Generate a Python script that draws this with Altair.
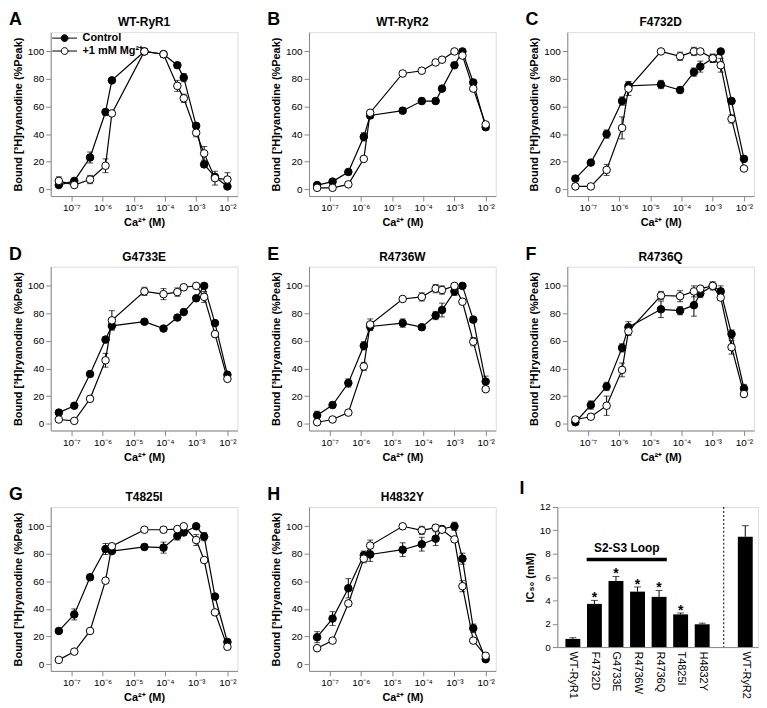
import altair as alt
import pandas as pd

FONT = "Liberation Sans"

# ---------------- data ----------------
conc = [4e-8, 1.25e-7, 4e-7, 1.25e-6, 2e-6, 2.2e-5, 9e-5, 2.5e-4, 4e-4, 1e-3, 1.8e-3, 4e-3, 1e-2]
series_names = ["Control", "+1 mM Mg²⁺"]

A_ctrl = [3, 6, 23, 56, 79, 100, 98, 90, 81, 46, 18, 9, 2]
A_ctrl_err = [1, 1, 4, 2, 0, 0, 2, 2, 3, 2, 2, 0, 0]
A_mg = [6, 3, 7, 17, 55, 100, 98, 75, 66, 41, 26, 8, 7]
A_mg_err = [3, 1, 3, 5, 1, 0, 2, 4, 3, 3, 5, 5, 5]

B_ctrl = [3, 5.5, 12.5, 38, 53.5, 57, 64, 64, 73, 90, 100, 77.5, 45]
B_ctrl_err = [1, 1, 1, 3, 2, 2, 2, 2, 1, 2, 0, 2, 2]
B_mg = [1, 1, 3.5, 22, 55.5, 84, 86, 92, 94, 100, 97, 73, 47]
B_mg_err = [0, 0, 0, 0, 0, 0, 0, 0, 0, 0, 0, 0, 0]

C_ctrl = [7.7, 19.3, 40, 64, 75, 76, 72, 85, 89, 95, 100, 64, 22]
C_ctrl_err = [1, 1, 3, 3, 3, 3, 2, 3, 4, 3, 0, 2, 1]
C_mg = [2, 2, 14, 44.5, 73, 100, 96.5, 100, 100, 95, 90, 51, 15]
C_mg_err = [0, 0, 4, 8, 5, 0, 3, 3, 0, 3, 5, 3, 0]

D_ctrl = [8, 13, 36, 61, 71, 74, 69, 77, 81, 91, 100, 73, 35.5]
D_ctrl_err = [1, 1, 1, 1, 3, 1, 1, 1, 1, 2, 0, 1, 1]
D_mg = [3, 2, 18, 46, 75, 96, 94, 95.5, 99, 100, 92, 65, 32.5]
D_mg_err = [0, 0, 2, 5, 7, 3, 4, 3, 2, 2, 4, 2, 0]

E_ctrl = [6, 13.5, 29.5, 56.5, 70.5, 73, 70, 78.5, 82.5, 96, 100, 75.5, 30.5]
E_ctrl_err = [3, 2, 3, 3, 3, 3, 2, 3, 5, 3, 0, 2, 4]
E_mg = [1, 3, 8, 41.5, 72, 90.5, 92, 98, 97, 100, 88.5, 59.5, 25]
E_mg_err = [0, 0, 0, 3, 4, 0, 3, 3, 3, 0, 0, 3, 0]

F_ctrl = [1, 13.5, 27, 55, 70, 83, 82, 86, 94.5, 100, 96, 65, 25.5]
F_ctrl_err = [2, 3, 3, 3, 4, 6, 3, 8, 3, 3, 4, 3, 3]
F_mg = [3, 5, 13, 39, 67, 93, 92.5, 96, 98, 100, 91.5, 55.5, 21.5]
F_mg_err = [2, 0, 7, 5, 3, 3, 4, 4, 0, 0, 2, 5, 2]

G_ctrl = [24, 36, 63, 83.5, 82, 85, 84.5, 93, 95.5, 100, 92.5, 49, 16]
G_ctrl_err = [0, 4, 2, 4, 0, 2, 4, 3, 2, 0, 3, 0, 2]
G_mg = [3, 9, 24, 60.5, 85.5, 97.5, 97.5, 98, 100, 90, 75.5, 37.5, 12.5]
G_mg_err = [0, 0, 0, 0, 0, 0, 2, 0, 0, 4, 0, 0, 0]

H_ctrl = [19.5, 33, 55, 79, 79.5, 83, 87, 91, 98, 100, 76.5, 26, 3.5]
H_ctrl_err = [4, 5, 7, 3, 5, 5, 5, 5, 2, 3, 4, 3, 0]
H_mg = [11.5, 17, 44, 76.5, 86, 100, 97, 99, 97.5, 90.5, 56.5, 17, 6]
H_mg_err = [0, 0, 0, 3, 4, 2, 3, 2, 2, 0, 4, 0, 0]

panel_letters = ["A", "B", "C", "D", "E", "F", "G", "H"]
panel_titles = ["WT-RyR1", "WT-RyR2", "F4732D", "G4733E", "R4736W", "R4736Q", "T4825I", "H4832Y"]

ic50_names = ["WT-RyR1", "F4732D", "G4733E", "R4736W", "R4736Q", "T4825I", "H4832Y", "WT-RyR2"]
ic50_pos = [1, 2, 3, 4, 5, 6, 7, 9]
ic50_val = [0.7, 3.7, 5.65, 4.75, 4.3, 2.8, 1.95, 9.45]
ic50_err = [0.1, 0.3, 0.4, 0.4, 0.55, 0.12, 0.1, 0.95]
ic50_sig = [False, True, True, True, True, True, False, False]

loop_label = "S2-S3 Loop"
loop_from, loop_to, loop_level, loop_text_level = 1.64, 5.36, 7.5, 8.45
divider_at = 8

# ---------------- settings ----------------
PW, PH = 188, 165
LEG_PATH = ("M-2,0L-0.55,0M0.55,0L2,0M0.55,0A0.55,0.55,0,1,1,-0.55,0"
            "A0.55,0.55,0,1,1,0.55,0Z")
sup = ["⁻⁷", "⁻⁶", "⁻⁵", "⁻⁴", "⁻³", "⁻²"]
x_label_expr = "'10' + [" + ",".join("'" + s + "'" for s in sup) + "][round(log(datum.value)/LN10)+7]"

xs = alt.Scale(type="log", domain=[2.2e-8, 2.1e-2], nice=False)
ys = alt.Scale(domain=[-5, 114], nice=False, zero=False)
x_axis = alt.Axis(values=[1e-7, 1e-6, 1e-5, 1e-4, 1e-3, 1e-2], labelExpr=x_label_expr,
                  title="Ca²⁺ (M)", labelFontSize=10, grid=False)
y_axis = alt.Axis(values=[0, 20, 40, 60, 80, 100], title="Bound [³H]ryanodine (%Peak)", grid=False)


def X(field):
    return alt.X(field + ":Q", scale=xs, axis=x_axis)


def Y(field):
    return alt.Y(field + ":Q", scale=ys, axis=y_axis)


def text_layer(txt, size, x, y, align, baseline):
    return alt.Chart(pd.DataFrame({"t": [txt]})).mark_text(
        font=FONT, fontSize=size, fontWeight="bold", align=align, baseline=baseline,
        color="black").encode(text="t:N", x=alt.value(x), y=alt.value(y))


def curve_panel(letter, title, ctrl, ce, mg, me, legend):
    rows = []
    for s, vals, errs in [(series_names[0], ctrl, ce), (series_names[1], mg, me)]:
        for c, v, e in zip(conc, vals, errs):
            rows.append(dict(conc=c, val=v, err=e, lo=v - e, hi=v + e, series=s))
    df = pd.DataFrame(rows)
    eb = df[df.err > 0]

    rule = alt.Chart(eb).mark_rule(color="black", strokeWidth=1).encode(
        x=X("conc"), y=Y("lo"), y2="hi:Q")
    caps = alt.Chart(eb).transform_fold(["lo", "hi"], as_=["k", "yv"]).mark_tick(
        orient="horizontal", size=6, thickness=1, color="black").encode(
        x=X("conc"), y=Y("yv"))
    line = alt.Chart(df).mark_line(color="black", strokeWidth=1.2).encode(
        x=X("conc"), y=Y("val"), detail="series:N", order="conc:Q")
    if legend:
        leg = alt.Legend(title=None, orient="none", legendX=7, legendY=-1,
                         symbolType=LEG_PATH, symbolSize=156, symbolStrokeColor="black",
                         symbolStrokeWidth=1, labelFont=FONT, labelFontSize=11,
                         labelFontWeight="bold", labelColor="black", labelOffset=11,
                         rowPadding=0, padding=0)
    else:
        leg = None
    pts = alt.Chart(df).mark_point(shape="circle", filled=True, size=58, stroke="black",
                                   strokeWidth=1, opacity=1).encode(
        x=X("conc"), y=Y("val"),
        fill=alt.Fill("series:N", scale=alt.Scale(domain=series_names, range=["black", "white"]),
                      legend=leg))
    lab = text_layer(letter, 18, -42, -21, "left", "top")
    ttl = text_layer(title, 12, PW / 2, -3, "center", "bottom")
    return alt.layer(rule, caps, line, pts, lab, ttl).properties(width=PW, height=PH)


charts = []
data_sets = [
    (A_ctrl, A_ctrl_err, A_mg, A_mg_err), (B_ctrl, B_ctrl_err, B_mg, B_mg_err),
    (C_ctrl, C_ctrl_err, C_mg, C_mg_err), (D_ctrl, D_ctrl_err, D_mg, D_mg_err),
    (E_ctrl, E_ctrl_err, E_mg, E_mg_err), (F_ctrl, F_ctrl_err, F_mg, F_mg_err),
    (G_ctrl, G_ctrl_err, G_mg, G_mg_err), (H_ctrl, H_ctrl_err, H_mg, H_mg_err),
]
for i, (l, t, d) in enumerate(zip(panel_letters, panel_titles, data_sets)):
    charts.append(curve_panel(l, t, *d, legend=(i == 0)))

# ---------------- panel I ----------------
idf = pd.DataFrame(dict(name=ic50_names, pos=ic50_pos, val=ic50_val, err=ic50_err,
                        star=["*" if s else "" for s in ic50_sig]))
idf["hi"] = idf.val + idf.err
lbl_map = [""] * 10
for n, p in zip(ic50_names, ic50_pos):
    lbl_map[p] = n
i_label_expr = "[" + ",".join("'" + s + "'" for s in lbl_map) + "][datum.value]"
xsI = alt.Scale(domain=[0.51, 9.36], nice=False, zero=False)
ysI = alt.Scale(domain=[0, 12], nice=False)
xI_axis = alt.Axis(values=ic50_pos, labelExpr=i_label_expr, labelAngle=90, labelAlign="left",
                   labelBaseline="middle", ticks=False, title=None, labelFontSize=11,
                   labelPadding=4, grid=False, labelLimit=200)
yI_axis = alt.Axis(values=[0, 2, 4, 6, 8, 10, 12], title="IC₅₀ (mM)", grid=False)


def XI(field):
    return alt.X(field + ":Q", scale=xsI, axis=xI_axis)


def YI(field):
    return alt.Y(field + ":Q", scale=ysI, axis=yI_axis)


bars = alt.Chart(idf).mark_bar(size=15, color="black").encode(x=XI("pos"), y=YI("val"))
irule = alt.Chart(idf).mark_rule(color="black", strokeWidth=1).encode(x=XI("pos"), y=YI("val"), y2="hi:Q")
icap = alt.Chart(idf).mark_tick(orient="horizontal", size=7, thickness=1, color="black").encode(
    x=XI("pos"), y=YI("hi"))
stars = alt.Chart(idf).mark_text(font=FONT, fontSize=14, fontWeight="bold", baseline="alphabetic",
                                 dy=2, color="black").encode(x=XI("pos"), y=YI("hi"), text="star:N")
loop_df = pd.DataFrame(dict(a=[loop_from], b=[loop_to], lv=[loop_level],
                            m=[(loop_from + loop_to) / 2], tv=[loop_text_level], t=[loop_label]))
loop_rule = alt.Chart(loop_df).mark_rule(color="black", strokeWidth=3.5).encode(
    x=XI("a"), x2="b:Q", y=YI("lv"))
loop_txt = alt.Chart(loop_df).mark_text(font=FONT, fontSize=12, fontWeight="bold",
                                        baseline="middle", color="black").encode(
    x=XI("m"), y=YI("tv"), text="t:N")
div = alt.Chart(pd.DataFrame(dict(d=[divider_at]))).mark_rule(
    color="black", strokeWidth=1, strokeDash=[2, 2]).encode(x=XI("d"))
ilab = text_layer("I", 18, -38, -27, "left", "top")
panel_I = alt.layer(div, bars, irule, icap, stars, loop_rule, loop_txt, ilab).properties(
    width=202, height=141)

row1 = alt.hconcat(charts[0], charts[1], charts[2], spacing=28)
row2 = alt.hconcat(charts[3], charts[4], charts[5], spacing=28)
gh = alt.hconcat(charts[6], charts[7], spacing=28)
row3 = alt.hconcat(gh, panel_I, spacing=22)
for r in (row1, row2, gh, row3):
    r.resolve = alt.Resolve(scale=alt.ScaleResolveMap(fill="independent"),
                            legend=alt.LegendResolveMap(fill="independent"))

chart = alt.vconcat(row1, row2, row3, spacing=16).resolve_scale(fill="independent").resolve_legend(
    fill="independent").properties(padding=0).configure_view(stroke="black", strokeWidth=1).configure_axis(
    labelFont=FONT, titleFont=FONT, labelFontWeight="bold", titleFontWeight="bold",
    labelFontSize=10, titleFontSize=12, grid=False, tickColor="black", domainColor="black",
    labelColor="black", titleColor="black", tickSize=4, labelPadding=2, titlePadding=4
).configure(background="white")

chart.save("out.html", embed_options={"renderer": "svg", "actions": False})
